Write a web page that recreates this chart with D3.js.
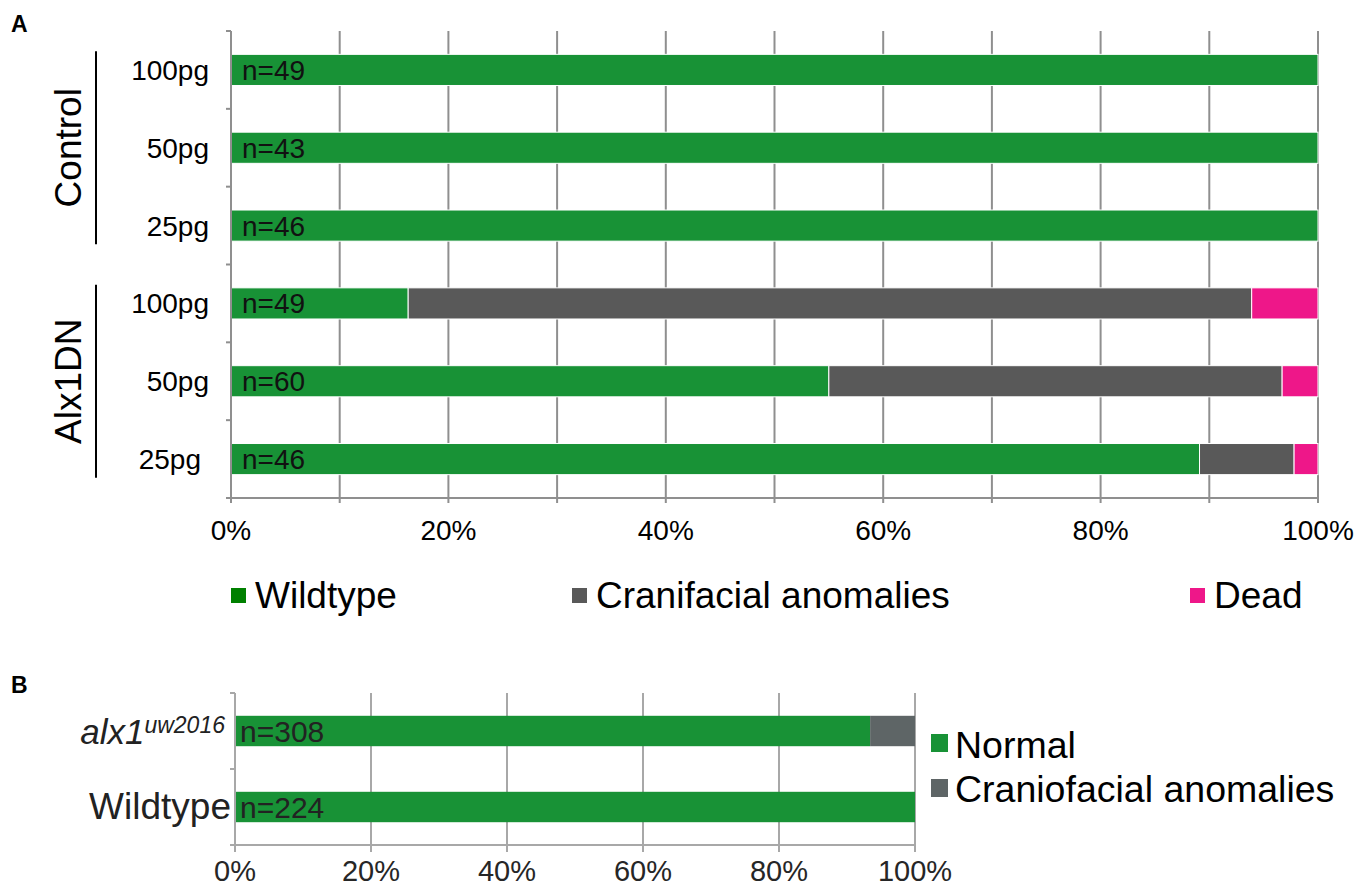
<!DOCTYPE html>
<html>
<head>
<meta charset="utf-8">
<script src="https://cdn.jsdelivr.net/npm/d3@7"></script>
<style>
  body { margin: 0; background: #fff; }
  text { font-family: "Liberation Sans", Arial, sans-serif; }
</style>
</head>
<body>
<svg id="chart" width="1367" height="887"></svg>
<script>
// Panel A data (percent of embryos)
const groupsA = ["Control", "Control", "Control", "Alx1DN", "Alx1DN", "Alx1DN"];
const dosesA = ["100pg", "50pg", "25pg", "100pg", "50pg", "25pg"];
const nA = [49, 43, 46, 49, 60, 46];
const wildtypeA = [100, 100, 100, 16.3, 55.0, 89.1];
const cranioA = [0, 0, 0, 77.6, 41.7, 8.7];
const deadA = [0, 0, 0, 6.1, 3.3, 2.2];
const ticksA = [0, 10, 20, 30, 40, 50, 60, 70, 80, 90, 100];
const legendA = ["Wildtype", "Cranifacial anomalies", "Dead"];

// Panel B data
const genotypesB = ["alx1", "Wildtype"];
const nB = [308, 224];
const normalB = [93.4, 100];
const cranioB = [6.6, 0];
const ticksB = [0, 20, 40, 60, 80, 100];
const legendB = ["Normal", "Craniofacial anomalies"];

const svg = d3.select("#chart");
const gridCol = "#8f8f8f";

// ---------- Panel A ----------
const rowsA = dosesA.map((d, i) => ({
  key: groupsA[i] + "|" + d, dose: d, n: nA[i],
  wildtype: wildtypeA[i], cranio: cranioA[i], dead: deadA[i]
}));
const xA = d3.scaleLinear().domain([0, 100]).range([231, 1318]);
const yA = d3.scaleBand().domain(rowsA.map(d => d.key)).range([31, 498])
  .paddingInner(0.6).paddingOuter(0.3);
const colA = d3.scaleOrdinal().domain(["wildtype", "cranio", "dead"])
  .range(["#189236", "#595959", "#ee1789"]);

svg.append("text").attr("x", 11).attr("y", 32)
  .style("font-size", "23px").style("font-weight", "bold").text("A");

// gridlines + ticks below the axis
svg.append("g").selectAll("line").data(ticksA).enter().append("line")
  .attr("x1", d => xA(d)).attr("x2", d => xA(d))
  .attr("y1", 31).attr("y2", 503)
  .attr("stroke", gridCol).attr("stroke-width", 2);

const stackA = d3.stack().keys(["wildtype", "cranio", "dead"])(rowsA);
svg.append("g").selectAll("g").data(stackA).enter().append("g")
  .attr("fill", s => colA(s.key))
  .selectAll("rect").data(s => s.filter(d => d[1] - d[0] > 0)).enter().append("rect")
  .attr("x", d => xA(d[0]))
  .attr("y", d => yA(d.data.key))
  .attr("width", d => xA(d[1]) - xA(d[0]))
  .attr("height", yA.bandwidth())
  .attr("stroke", "#fff").attr("stroke-width", 1);

// axes lines
svg.append("line").attr("x1", 226).attr("x2", xA(100)).attr("y1", 498).attr("y2", 498)
  .attr("stroke", gridCol).attr("stroke-width", 2);
svg.append("line").attr("x1", 231).attr("x2", 231).attr("y1", 31).attr("y2", 503)
  .attr("stroke", gridCol).attr("stroke-width", 2);
const bandEdgesA = rowsA.map(d => yA(d.key) - yA.step() * yA.paddingInner() / 2);
bandEdgesA.push(498);
svg.append("g").selectAll("line").data(bandEdgesA).enter().append("line")
  .attr("x1", 226).attr("x2", 231).attr("y1", d => d).attr("y2", d => d)
  .attr("stroke", gridCol).attr("stroke-width", 2);

// x tick labels
svg.append("g").selectAll("text").data(ticksA.filter(t => t % 20 === 0)).enter().append("text")
  .attr("x", d => xA(d)).attr("y", 540).attr("text-anchor", "middle")
  .style("font-size", "28px").text(d => d + "%");

// category labels
svg.append("g").selectAll("text").data(rowsA).enter().append("text")
  .attr("x", (d, i) => i === 5 ? 201 : 209)
  .attr("y", d => yA(d.key) + yA.bandwidth() / 2).attr("dy", "0.36em")
  .attr("text-anchor", "end").style("font-size", "28px").text(d => d.dose);

// n labels
svg.append("g").selectAll("text").data(rowsA).enter().append("text")
  .attr("x", 242).attr("y", d => yA(d.key) + yA.bandwidth() / 2).attr("dy", "0.36em")
  .style("font-size", "28px").attr("fill", "#111").text(d => "n=" + d.n);

// group brackets
const groupNames = Array.from(new Set(groupsA));
groupNames.forEach(gname => {
  const keys = rowsA.filter((d, i) => groupsA[i] === gname).map(d => d.key);
  const y0 = yA(keys[0]) - 3, y1 = yA(keys[keys.length - 1]) + yA.bandwidth() + 3;
  svg.append("line").attr("x1", 96).attr("x2", 96).attr("y1", y0).attr("y2", y1)
    .attr("stroke", "#000").attr("stroke-width", 2);
  svg.append("text")
    .attr("transform", `translate(81,${(y0 + y1) / 2}) rotate(-90)`)
    .attr("text-anchor", "middle").style("font-size", "37px").text(gname);
});

// legend A
const legXA = [231, 572, 1190];
const legColA = ["#008000", "#595959", "#ee1789"];
legendA.forEach((name, i) => {
  svg.append("rect").attr("x", legXA[i]).attr("y", 588).attr("width", 15).attr("height", 15)
    .attr("fill", legColA[i]);
  svg.append("text").attr("x", legXA[i] + 24).attr("y", 608)
    .style("font-size", "37px").text(name);
});

// ---------- Panel B ----------
const rowsB = genotypesB.map((g, i) => ({ key: g, n: nB[i], normal: normalB[i], cranio: cranioB[i] }));
const xB = d3.scaleLinear().domain([0, 100]).range([235, 915]);
const yB = d3.scaleBand().domain(genotypesB).range([693, 845])
  .paddingInner(0.6).paddingOuter(0.3);
const colB = d3.scaleOrdinal().domain(["normal", "cranio"]).range(["#189236", "#5e6566"]);
const gridB = "#a8a8a8";

svg.append("text").attr("x", 11).attr("y", 693)
  .style("font-size", "23px").style("font-weight", "bold").text("B");

svg.append("g").selectAll("line").data(ticksB).enter().append("line")
  .attr("x1", d => xB(d)).attr("x2", d => xB(d)).attr("y1", 693).attr("y2", 852)
  .attr("stroke", gridB).attr("stroke-width", 2);

const stackB = d3.stack().keys(["normal", "cranio"])(rowsB);
svg.append("g").selectAll("g").data(stackB).enter().append("g")
  .attr("fill", s => colB(s.key))
  .selectAll("rect").data(s => s.filter(d => d[1] - d[0] > 0)).enter().append("rect")
  .attr("x", d => xB(d[0])).attr("y", d => yB(d.data.key))
  .attr("width", d => xB(d[1]) - xB(d[0])).attr("height", yB.bandwidth());

svg.append("line").attr("x1", 230).attr("x2", xB(100)).attr("y1", 845).attr("y2", 845)
  .attr("stroke", gridB).attr("stroke-width", 2);
svg.append("line").attr("x1", 235).attr("x2", 235).attr("y1", 693).attr("y2", 852)
  .attr("stroke", gridB).attr("stroke-width", 2);
const bandEdgesB = genotypesB.map(g => yB(g) - yB.step() * yB.paddingInner() / 2);
bandEdgesB.push(845);
svg.append("g").selectAll("line").data(bandEdgesB).enter().append("line")
  .attr("x1", 230).attr("x2", 235).attr("y1", d => d).attr("y2", d => d)
  .attr("stroke", gridB).attr("stroke-width", 2);

svg.append("g").selectAll("text").data(ticksB).enter().append("text")
  .attr("x", d => xB(d)).attr("y", 881).attr("text-anchor", "middle")
  .attr("fill", "#262626").style("font-size", "29px").text(d => d + "%");

// genotype labels
const lab1 = svg.append("text").attr("x", 225).attr("y", yB("alx1") + yB.bandwidth() / 2 + 13)
  .attr("text-anchor", "end").attr("fill", "#222").style("font-size", "35px");
lab1.append("tspan").style("font-style", "italic").text("alx1");
lab1.append("tspan").attr("dy", -11).style("font-style", "italic").style("font-size", "23px").text("uw2016");
svg.append("text").attr("x", 231).attr("y", yB("Wildtype") + yB.bandwidth() / 2 + 12)
  .attr("text-anchor", "end").attr("fill", "#222").style("font-size", "37px").text("Wildtype");

svg.append("g").selectAll("text").data(rowsB).enter().append("text")
  .attr("x", 240).attr("y", d => yB(d.key) + yB.bandwidth() / 2).attr("dy", "0.36em")
  .attr("fill", "#222").style("font-size", "30px").text(d => "n=" + d.n);

// legend B
const legColB = ["#189236", "#5e6566"];
legendB.forEach((name, i) => {
  svg.append("rect").attr("x", 931).attr("y", 734 + i * 45).attr("width", 17).attr("height", 18)
    .attr("fill", legColB[i]);
  svg.append("text").attr("x", 955).attr("y", 758 + i * 44)
    .style("font-size", "37.5px").text(name);
});
</script>
</body>
</html>
